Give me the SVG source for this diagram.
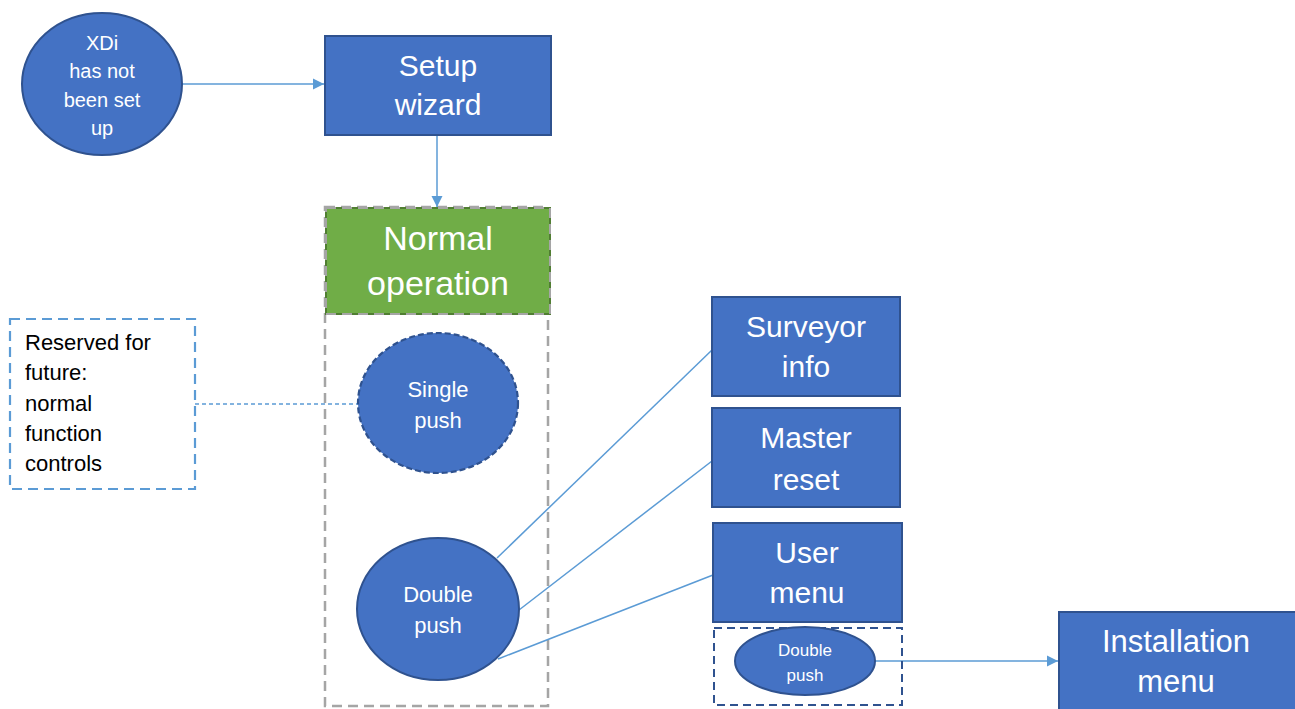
<svg xmlns="http://www.w3.org/2000/svg" width="1295" height="709" viewBox="0 0 1295 709">
<style>
.box{fill:#4472C4;stroke:#2F528F;stroke-width:2}
.wt{fill:#fff;font-family:"Liberation Sans",Arial,sans-serif;text-anchor:middle}
.bt{fill:#000;font-family:"Liberation Sans",Arial,sans-serif}
.con{stroke:#5B9BD5;stroke-width:1.5;fill:none}
</style>
<defs>
<marker id="arr" viewBox="0 0 10 10" refX="10" refY="5" markerWidth="11" markerHeight="12" markerUnits="userSpaceOnUse" orient="auto"><path d="M0,0 L10,5 L0,10 z" fill="#5B9BD5"/></marker>
</defs>
<rect width="1295" height="709" fill="#fff"/>

<g id="container">
<rect x="325" y="207" width="223" height="499" fill="none" stroke="#A5A5A5" stroke-width="2.5" stroke-dasharray="10 6"/>
</g>

<g id="connectors">
<line class="con" x1="182" y1="84" x2="324" y2="84" marker-end="url(#arr)"/>
<line class="con" x1="437" y1="135" x2="437" y2="207" marker-end="url(#arr)"/>
<line class="con" x1="195" y1="404" x2="358" y2="404" stroke-dasharray="4 3"/>
<line class="con" x1="497" y1="558" x2="712" y2="350"/>
<line class="con" x1="519" y1="610" x2="712" y2="461"/>
<line class="con" x1="498" y1="659" x2="713" y2="575"/>
<line class="con" x1="875" y1="661" x2="1058" y2="661" marker-end="url(#arr)"/>
</g>

<g id="xdi">
<ellipse cx="102" cy="84" rx="80" ry="71" class="box"/>
<text class="wt" font-size="20" x="102" y="50">XDi</text>
<text class="wt" font-size="20" x="102" y="78">has not</text>
<text class="wt" font-size="20" x="102" y="107">been set</text>
<text class="wt" font-size="20" x="102" y="135">up</text>
</g>

<g id="setup">
<rect x="325" y="36" width="226" height="99" class="box"/>
<text class="wt" font-size="30" x="438" y="76">Setup</text>
<text class="wt" font-size="30" x="438" y="115">wizard</text>
</g>

<g id="normal">
<rect x="326" y="208" width="224" height="106" fill="#70AD47" stroke="#507E32" stroke-width="2"/>
<rect x="326" y="208" width="224" height="106" fill="none" stroke="#A5A5A5" stroke-width="2" stroke-dasharray="10 6"/>
<text class="wt" font-size="34" x="438" y="250">Normal</text>
<text class="wt" font-size="34" x="438" y="295">operation</text>
</g>

<g id="reserved">
<rect x="10" y="319" width="185" height="170" fill="#fff" stroke="#5B9BD5" stroke-width="2.2" stroke-dasharray="10 6"/>
<text class="bt" font-size="22" x="25" y="350">Reserved for</text>
<text class="bt" font-size="22" x="25" y="380">future:</text>
<text class="bt" font-size="22" x="25" y="411">normal</text>
<text class="bt" font-size="22" x="25" y="441">function</text>
<text class="bt" font-size="22" x="25" y="471">controls</text>
</g>

<g id="single">
<ellipse cx="438" cy="403" rx="80" ry="70" fill="#4472C4" stroke="#2F528F" stroke-width="2.2" stroke-dasharray="6 3"/>
<text class="wt" font-size="22" x="438" y="397">Single</text>
<text class="wt" font-size="22" x="438" y="428">push</text>
</g>

<g id="double">
<ellipse cx="438" cy="609" rx="81" ry="71" class="box"/>
<text class="wt" font-size="22" x="438" y="602">Double</text>
<text class="wt" font-size="22" x="438" y="633">push</text>
</g>

<g id="surveyor">
<rect x="712" y="297" width="188" height="99" class="box"/>
<text class="wt" font-size="30" x="806" y="337">Surveyor</text>
<text class="wt" font-size="30" x="806" y="377">info</text>
</g>

<g id="master">
<rect x="712" y="408" width="188" height="99" class="box"/>
<text class="wt" font-size="30" x="806" y="448">Master</text>
<text class="wt" font-size="30" x="806" y="490">reset</text>
</g>

<g id="user">
<rect x="713" y="523" width="189" height="99" class="box"/>
<text class="wt" font-size="30" x="807" y="563">User</text>
<text class="wt" font-size="30" x="807" y="603">menu</text>
</g>

<g id="userdouble">
<rect x="714" y="628" width="188" height="77" fill="none" stroke="#2F528F" stroke-width="2" stroke-dasharray="8 5"/>
<ellipse cx="805" cy="661" rx="70" ry="34" class="box"/>
<text class="wt" font-size="17" x="805" y="656">Double</text>
<text class="wt" font-size="17" x="805" y="681">push</text>
</g>

<g id="install">
<rect x="1059" y="612" width="240" height="102" class="box"/>
<text class="wt" font-size="31" x="1176" y="652">Installation</text>
<text class="wt" font-size="31" x="1176" y="692">menu</text>
</g>
</svg>
